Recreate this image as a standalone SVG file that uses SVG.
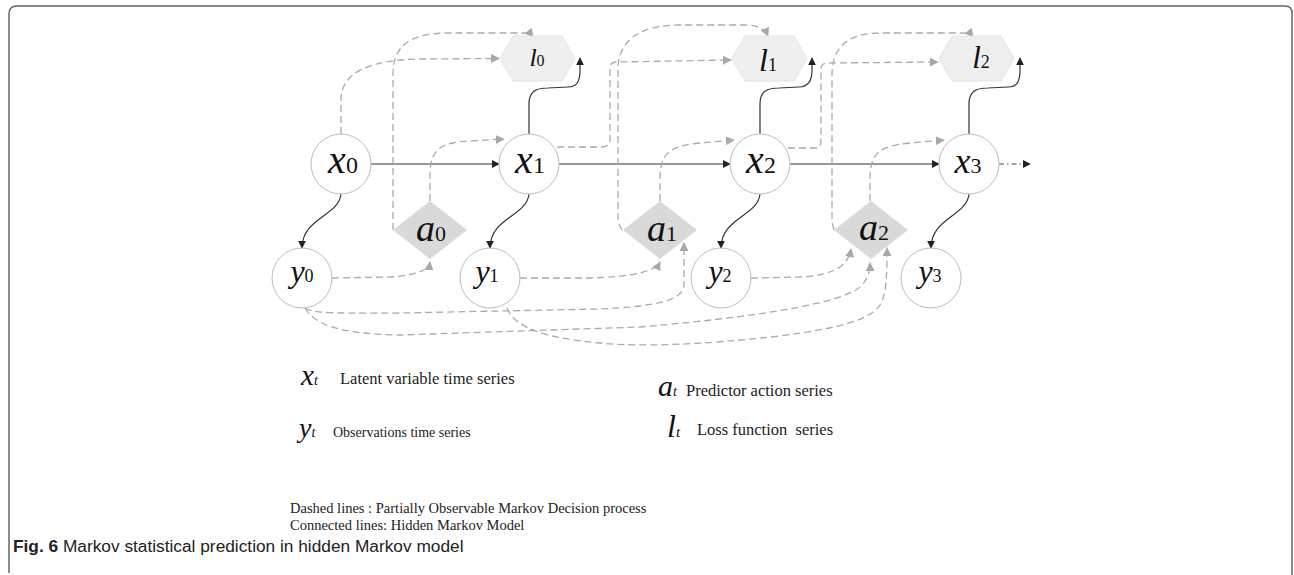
<svg xmlns="http://www.w3.org/2000/svg" width="1294" height="575" viewBox="0 0 1294 575">
<defs>
<style>
.frame{fill:none;stroke:#666;stroke-width:1.5}
.circ{fill:#fff;stroke:#bdbdbd;stroke-width:1}
.hex{fill:#efefef;stroke:#e4e4e4;stroke-width:1}
.dia{fill:#d9d9d9;stroke:none}
.solid{fill:none;stroke:#333;stroke-width:1.2}
.dash{fill:none;stroke:#aaa;stroke-width:1.3;stroke-dasharray:7 4}
.dot{fill:none;stroke:#444;stroke-width:1.2;stroke-dasharray:5 3 1.5 3}
.lbl{font-family:"Liberation Serif","Times New Roman",serif;fill:#111}
.it{font-style:italic}
.leg{font-family:"Liberation Serif","Times New Roman",serif;fill:#222;font-size:16.5px}
.note{font-family:"Liberation Serif","Times New Roman",serif;fill:#222;font-size:14.5px}
.cap{font-family:"Liberation Sans",Arial,sans-serif;fill:#222;font-size:17.3px}
</style>
<marker id="ab" viewBox="0 0 10 10" refX="9" refY="5" markerWidth="8" markerHeight="8" markerUnits="userSpaceOnUse" orient="auto"><path d="M0,0 L10,5 L0,10 z" fill="#222"/></marker>
<marker id="ag" viewBox="0 0 10 10" refX="9" refY="5" markerWidth="9" markerHeight="9" markerUnits="userSpaceOnUse" orient="auto"><path d="M0,0 L10,5 L0,10 z" fill="#a8a8a8"/></marker>
</defs>
<rect width="1294" height="575" fill="#fff"/>
<path class="frame" d="M9,573 L9,14 Q9,6 17,6 L1285,6 Q1292,6 1292,13 L1292,575"/>

<g id="connectors">
<path class="solid" d="M371,164 L499,164" marker-end="url(#ab)"/>
<path class="solid" d="M559,164 L730,164" marker-end="url(#ab)"/>
<path class="solid" d="M790,164 L939,164" marker-end="url(#ab)"/>
<path class="dot" d="M999,164 L1030,164" marker-end="url(#ab)"/>
<path class="solid" d="M341,194 C339,216 302,218 302,248" marker-end="url(#ab)"/>
<path class="solid" d="M529,194 C527,216 490,218 490,248" marker-end="url(#ab)"/>
<path class="solid" d="M760,194 C758,216 721,218 721,248" marker-end="url(#ab)"/>
<path class="solid" d="M969,194 C967,216 931,218 931,248" marker-end="url(#ab)"/>
<path class="solid" d="M529,134 L529,104 C529,92 535,88 548,88 L568,87 C578,87 580,80 580,70 L580,58" marker-end="url(#ab)"/>
<path class="solid" d="M760,134 L760,104 C760,92 766,88 779,88 L799,87 C809,87 812,80 812,70 L812,58" marker-end="url(#ab)"/>
<path class="solid" d="M969,134 L969,104 C969,92 975,88 988,88 L1008,87 C1018,87 1020,80 1020,70 L1020,58" marker-end="url(#ab)"/>

<path class="dash" d="M341,134 L341,100 C341,72 370,60 420,59 L499,58.5" marker-end="url(#ag)"/>
<path class="dash" d="M393,230 L393,75 C393,45 410,33 450,33 L522,33 Q530,33 533,37" marker-end="url(#ag)"/>
<path class="dash" d="M430,201 L430,175 C430,150 440,142 470,141 L504,139" marker-end="url(#ag)"/>
<path class="dash" d="M557,147 L602,147 C608,147 610,144 610,139 L610,69 C610,64 612,62 617,62 L731,60" marker-end="url(#ag)"/>
<path class="dash" d="M622,230 L618,222 L618,70 C618,40 640,25 680,25 L745,25 C758,25 765,29 768,36" marker-end="url(#ag)"/>
<path class="dash" d="M660,201 L660,180 C660,152 670,146 700,143 L734,140" marker-end="url(#ag)"/>
<path class="dash" d="M788,148 L815,148 C820,148 821,145 821,140 L821,70 C821,65 823,63 828,63 L938,62" marker-end="url(#ag)"/>
<path class="dash" d="M834,230 L832,222 L832,75 C832,50 845,33 880,33 L962,33 Q970,33 973,37" marker-end="url(#ag)"/>
<path class="dash" d="M870,201 L870,180 C870,152 880,146 910,143 L944,140" marker-end="url(#ag)"/>
<path class="dash" d="M332,278 L390,277 C418,275 429,270 430,262" marker-end="url(#ag)"/>
<path class="dash" d="M520,278 L590,278 C630,277 655,272 660,262" marker-end="url(#ag)"/>
<path class="dash" d="M751,278 L800,277 C835,275 848,266 851,249" marker-end="url(#ag)"/>
<path class="dash" d="M305,308 C312,313 330,313.5 400,313 L600,309 C660,306 683,300 684,285 L684,243" marker-end="url(#ag)"/>
<path class="dash" d="M305,308 C315,325 340,334 400,335 L640,327 C780,315 850,300 862,285 C868,278 870,272 870,263" marker-end="url(#ag)"/>
<path class="dash" d="M507,308 C515,328 545,338 600,343 C640,347 700,345 780,336 C840,328 870,320 880,305 C886,295 887,280 887,248" marker-end="url(#ag)"/>
</g>

<g id="node-x0"><circle class="circ" cx="341" cy="164" r="30"/><text class="lbl" x="343" y="173" text-anchor="middle"><tspan class="it" font-size="40">x</tspan><tspan font-size="24">0</tspan></text></g>
<g id="node-x1"><circle class="circ" cx="529" cy="164" r="30"/><text class="lbl" x="530" y="173" text-anchor="middle"><tspan class="it" font-size="40">x</tspan><tspan font-size="24">1</tspan></text></g>
<g id="node-x2"><circle class="circ" cx="760" cy="164" r="30"/><text class="lbl" x="761" y="173" text-anchor="middle"><tspan class="it" font-size="40">x</tspan><tspan font-size="24">2</tspan></text></g>
<g id="node-x3"><circle class="circ" cx="969" cy="164" r="30"/><text class="lbl" x="968" y="173" text-anchor="middle"><tspan class="it" font-size="36">x</tspan><tspan font-size="22">3</tspan></text></g>

<g id="node-y0"><circle class="circ" cx="302" cy="278" r="30"/><text class="lbl" x="302" y="282" text-anchor="middle"><tspan class="it" font-size="32">y</tspan><tspan font-size="18">0</tspan></text></g>
<g id="node-y1"><circle class="circ" cx="490" cy="278" r="30"/><text class="lbl" x="487" y="282" text-anchor="middle"><tspan class="it" font-size="32">y</tspan><tspan font-size="18">1</tspan></text></g>
<g id="node-y2"><circle class="circ" cx="721" cy="278" r="30"/><text class="lbl" x="720" y="282" text-anchor="middle"><tspan class="it" font-size="32">y</tspan><tspan font-size="18">2</tspan></text></g>
<g id="node-y3"><circle class="circ" cx="931" cy="278" r="30"/><text class="lbl" x="930" y="282" text-anchor="middle"><tspan class="it" font-size="32">y</tspan><tspan font-size="18">3</tspan></text></g>

<g id="node-a0"><path class="dia" d="M393,230 L430,201 L467,230 L430,259 Z"/><text class="lbl" x="431" y="241" text-anchor="middle"><tspan class="it" font-size="38">a</tspan><tspan font-size="22">0</tspan></text></g>
<g id="node-a1"><path class="dia" d="M623,230 L660,201 L697,230 L660,259 Z"/><text class="lbl" x="662" y="241" text-anchor="middle"><tspan class="it" font-size="38">a</tspan><tspan font-size="22">1</tspan></text></g>
<g id="node-a2"><path class="dia" d="M834,230 L871,201 L908,230 L871,259 Z"/><text class="lbl" x="874" y="240" text-anchor="middle"><tspan class="it" font-size="38">a</tspan><tspan font-size="22">2</tspan></text></g>

<g id="node-l0"><path class="hex" d="M500,58.5 L513,36 L562,36 L575,58.5 L562,81 L513,81 Z"/><text class="lbl" x="537" y="66" text-anchor="middle"><tspan class="it" font-size="26">l</tspan><tspan font-size="16">0</tspan></text></g>
<g id="node-l1"><path class="hex" d="M732,58.5 L745,36 L794,36 L807,58.5 L794,81 L745,81 Z"/><text class="lbl" x="768" y="71" text-anchor="middle"><tspan class="it" font-size="32">l</tspan><tspan font-size="18">1</tspan></text></g>
<g id="node-l2"><path class="hex" d="M939,58.5 L952,36 L1001,36 L1014,58.5 L1001,81 L952,81 Z"/><text class="lbl" x="981" y="68" text-anchor="middle"><tspan class="it" font-size="31">l</tspan><tspan font-size="18">2</tspan></text></g>

<g id="legend">
<text class="lbl" x="301" y="385"><tspan class="it" font-size="29">x</tspan><tspan class="it" font-size="14">t</tspan></text>
<text class="leg" x="340" y="384">Latent variable time series</text>
<text class="lbl" x="299" y="437"><tspan class="it" font-size="28">y</tspan><tspan class="it" font-size="14">t</tspan></text>
<text class="leg" x="333" y="437" style="font-size:14px">Observations time series</text>
<text class="lbl" x="658" y="396"><tspan class="it" font-size="30">a</tspan><tspan class="it" font-size="14">t</tspan></text>
<text class="leg" x="686" y="396">Predictor action series</text>
<text class="lbl" x="667" y="437"><tspan class="it" font-size="32">l</tspan><tspan class="it" font-size="15">t</tspan></text>
<text class="leg" x="697" y="435" style="white-space:pre">Loss function  series</text>
<text class="note" x="290" y="513">Dashed lines : Partially Observable Markov Decision process</text>
<text class="note" x="290" y="530">Connected lines: Hidden Markov Model</text>
</g>

<text class="cap" x="13" y="552"><tspan font-weight="bold">Fig. 6</tspan> Markov statistical prediction in hidden Markov model</text>
</svg>
